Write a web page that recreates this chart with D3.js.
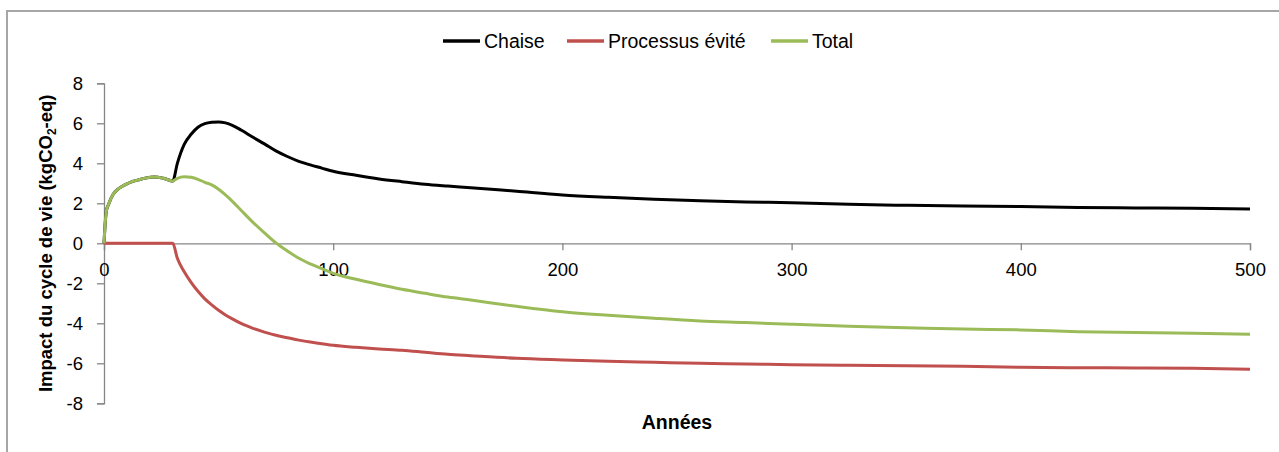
<!DOCTYPE html>
<html>
<head>
<meta charset="utf-8">
<script src="https://cdn.jsdelivr.net/npm/d3@7"></script>
<style>
  html, body { margin: 0; padding: 0; background: #fff; }
  svg { display: block; font-family: "Liberation Sans", Arial, sans-serif; }
</style>
</head>
<body>
<svg id="chart" width="1279" height="452"></svg>
<script>
// ---- Data ----
const seriesNames = ["Chaise", "Processus évité", "Total"];
const years = [0, 1, 2, 4, 6, 8, 10, 12, 15, 18, 22, 26, 30,
  32, 35, 38, 41, 44, 47, 50, 53, 56, 60, 65, 70, 75, 80, 85, 90, 95,
  100, 110, 120, 130, 140, 150, 160, 180, 200, 220, 240, 260, 280, 300,
  325, 350, 375, 400, 425, 450, 475, 500];
const chaise = [0, 1.6, 1.95, 2.45, 2.7, 2.85, 2.97, 3.07, 3.17, 3.26, 3.32, 3.25, 3.12,
  4.0, 4.95, 5.45, 5.8, 5.98, 6.05, 6.07, 6.02, 5.9, 5.65, 5.3, 4.97, 4.62, 4.34, 4.1, 3.92, 3.76,
  3.6, 3.4, 3.22, 3.08, 2.95, 2.86, 2.78, 2.6, 2.42, 2.3, 2.2, 2.13, 2.07, 2.03,
  1.95, 1.9, 1.86, 1.84, 1.79, 1.77, 1.75, 1.72];
const evite = [0, 0, 0, 0, 0, 0, 0, 0, 0, 0, 0, 0, 0,
  -0.75, -1.42, -1.95, -2.4, -2.78, -3.08, -3.35, -3.58, -3.78, -4.02, -4.25, -4.44, -4.6, -4.72, -4.84, -4.94, -5.02,
  -5.1, -5.2, -5.28, -5.35, -5.45, -5.55, -5.62, -5.75, -5.83, -5.9, -5.95, -6.0, -6.03, -6.07,
  -6.1, -6.12, -6.15, -6.2, -6.22, -6.23, -6.25, -6.3];
const total = [0, 1.6, 1.95, 2.45, 2.7, 2.85, 2.97, 3.07, 3.17, 3.26, 3.32, 3.25, 3.12,
  3.25, 3.33, 3.3, 3.2, 3.05, 2.92, 2.7, 2.42, 2.1, 1.63, 1.05, 0.52, 0.02, -0.38, -0.75, -1.03, -1.27,
  -1.5, -1.8, -2.06, -2.3, -2.5, -2.69, -2.84, -3.15, -3.42, -3.6, -3.75, -3.88, -3.96, -4.05,
  -4.15, -4.22, -4.29, -4.33, -4.42, -4.46, -4.5, -4.55];
const xTicks = [0, 100, 200, 300, 400, 500];
const yTicks = [-8, -6, -4, -2, 0, 2, 4, 6, 8];
const colors = ["#000000", "#c0504d", "#9bbb59"];

// ---- Scales ----
const svg = d3.select("#chart");
const x = d3.scaleLinear().domain([0, 500]).range([104, 1250]);
const y = d3.scaleLinear().domain([-8, 8]).range([403.3, 83.3]);

// Outer frame (left and top only visible)
svg.append("path")
  .attr("d", "M7,452 L7,11 L1279,11")
  .attr("fill", "none").attr("stroke", "#a6a6a6").attr("stroke-width", 2);

const axisColor = "#868686";
// Y axis
const yAxis = svg.append("g").attr("transform", `translate(${x(0)},0)`)
  .call(d3.axisLeft(y).tickValues(yTicks).tickSize(7).tickPadding(14).tickFormat(d3.format("d")));
yAxis.select(".domain").attr("stroke", axisColor).attr("stroke-width", 1.3);
yAxis.selectAll(".tick line").attr("stroke", axisColor).attr("stroke-width", 1.3);
yAxis.selectAll(".tick text").attr("font-size", 18.5).attr("fill", "#000")
  .attr("font-family", "Liberation Sans, Arial, sans-serif").text(d => d < 0 ? "-" + Math.abs(d) : d);

// X axis at y=0
const xAxis = svg.append("g").attr("transform", `translate(0,${y(0)})`)
  .call(d3.axisBottom(x).tickValues(xTicks).tickSize(7).tickPadding(13).tickFormat(d3.format("d")));
xAxis.select(".domain").attr("stroke", axisColor).attr("stroke-width", 1.3);
xAxis.selectAll(".tick line").attr("stroke", axisColor).attr("stroke-width", 1.3);
xAxis.selectAll(".tick text").attr("font-size", 18.5).attr("fill", "#000")
  .attr("font-family", "Liberation Sans, Arial, sans-serif");

// Lines
const data = [chaise, evite, total];
const line = d3.line().x((d, i) => x(years[i])).y(d => y(d)).curve(d3.curveMonotoneX);
data.forEach((vals, k) => {
  svg.append("path").datum(vals)
    .attr("d", line)
    .attr("fill", "none")
    .attr("stroke", colors[k])
    .attr("stroke-width", 3)
    .attr("stroke-linejoin", "round");
});

// Axis titles
const yt = svg.append("text")
  .attr("transform", `translate(52,${(y(8) + y(-8)) / 2}) rotate(-90)`)
  .attr("text-anchor", "middle")
  .attr("font-size", 18.5).attr("font-weight", "bold").attr("fill", "#000");
yt.append("tspan").text("Impact du cycle de vie (kgCO");
yt.append("tspan").attr("font-size", 12).attr("dy", 4).text("2");
yt.append("tspan").attr("dy", -4).text("-eq)");

svg.append("text").attr("x", 677).attr("y", 429).attr("text-anchor", "middle")
  .attr("font-size", 19.5).attr("font-weight", "bold").attr("fill", "#000").text("Années");

// Legend
const legendPos = [443, 567, 771];
seriesNames.forEach((name, k) => {
  const g = svg.append("g").attr("transform", `translate(${legendPos[k]},41)`);
  g.append("line").attr("x1", 0).attr("x2", 37).attr("y1", 0).attr("y2", 0)
    .attr("stroke", colors[k]).attr("stroke-width", 3.5);
  g.append("text").attr("x", 41).attr("y", 7).attr("font-size", 19.5).attr("fill", "#000").text(name);
});
</script>
</body>
</html>
